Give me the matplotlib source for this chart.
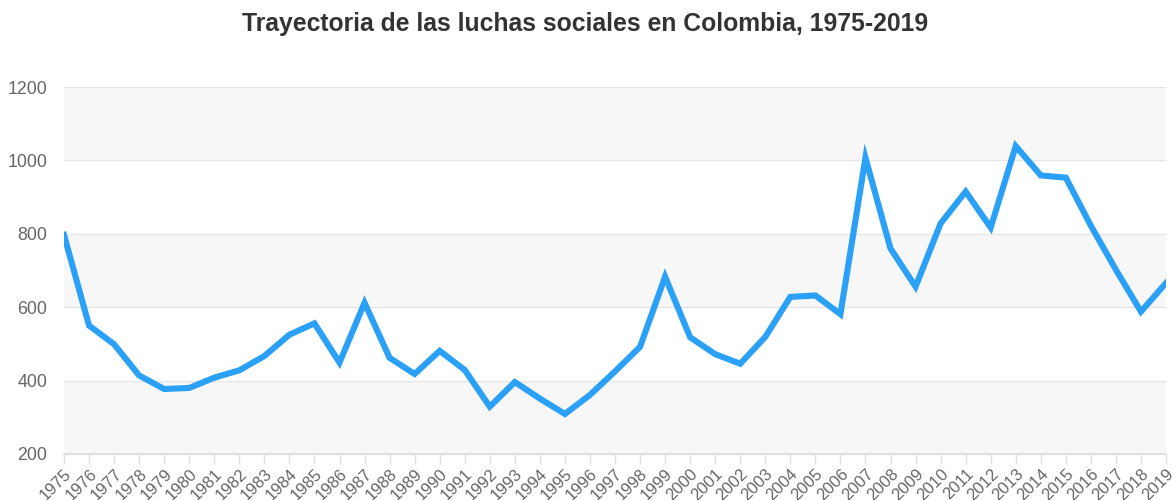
import matplotlib
matplotlib.use("Agg")
import matplotlib.pyplot as plt

# Number of social struggles per year
years = list(range(1975, 2020))
luchas = [
    797, 550, 499, 414, 377, 380, 408, 428, 467, 525,
    556, 449, 612, 462, 418, 481, 429, 329, 396, 351,
    309, 361, 425, 492, 683, 518, 472, 446, 519, 628,
    632, 581, 1007, 760, 656, 828, 915, 817, 1039, 959,
    953, 822, 702, 588, 666,
]
y_ticks = [200, 400, 600, 800, 1000, 1200]

plt.rcParams["font.family"] = ["Liberation Sans", "DejaVu Sans"]

fig = plt.figure(figsize=(11.72, 5.0), dpi=100)
ax = fig.add_axes([64 / 1172, 1 - 454 / 500, 1102 / 1172, 367 / 500])

# alternating horizontal bands
for lo, hi in zip(y_ticks[:-1], y_ticks[1:]):
    if (lo // 200) % 2 == 1:
        ax.axhspan(lo, hi, color="#f7f7f7", zorder=0, lw=0)
for t in y_ticks[1:]:
    ax.axhline(t, color="#e6e6e6", lw=1, zorder=1)

ax.plot(years, luchas, color="#2ba0f7", lw=4.4, solid_joinstyle="miter", zorder=3)

ax.set_xlim(1975, 2019)
ax.set_ylim(200, 1200)
ax.set_yticks(y_ticks)
ax.set_xticks(years)
ax.set_xticklabels([str(y) for y in years], rotation=45, ha="right",
                   rotation_mode="anchor", fontsize=12, color="#666666")
# shift rotated year labels slightly right so they end just past each tick
for lbl in ax.get_xticklabels():
    lbl.set_transform(lbl.get_transform() + matplotlib.transforms.ScaledTranslation(
        4 / 100, 0, fig.dpi_scale_trans))
ax.tick_params(axis="x", length=7, width=1, color="#e0e0e0", pad=2)
ax.tick_params(axis="y", length=0, pad=12, labelsize=12.8, labelcolor="#666666")

for s in ["top", "right", "left"]:
    ax.spines[s].set_visible(False)
ax.spines["bottom"].set_color("#e0e0e0")
ax.spines["bottom"].set_linewidth(1.5)

fig.text(0.499, 1 - 24 / 500, "Trayectoria de las luchas sociales en Colombia, 1975-2019",
         ha="center", va="center", fontsize=17.8, fontweight="bold", color="#333333")

fig.savefig("out.png", dpi=100)
